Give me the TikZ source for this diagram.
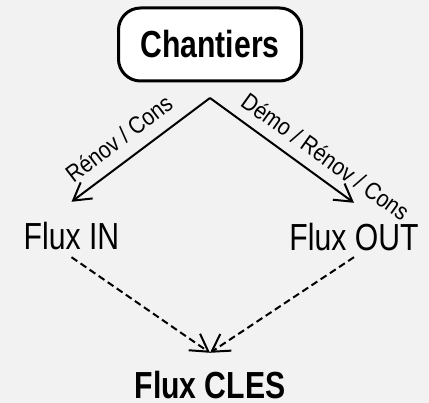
\documentclass[tikz,border=0pt]{standalone}
\usepackage{fontspec}
\setmainfont{Liberation Sans}[FakeStretch=0.8]
\newfontfamily\lblfont{Liberation Sans}[FakeStretch=0.87]
\usetikzlibrary{arrows.meta}
\definecolor{bg}{HTML}{F2F2F2}
\begin{document}
\begin{tikzpicture}[x=1pt,y=-1pt,
  bigtext/.style={font=\fontsize{37.7}{40}\selectfont, inner sep=0pt, anchor=base},
  boldtext/.style={font=\fontsize{37.7}{40}\selectfont\bfseries, inner sep=0pt, anchor=base},
  lbl/.style={font=\lblfont\fontsize{24}{26}\selectfont, inner sep=0pt, anchor=base},
  topbox/.style={draw=black, fill=white, line width=3pt, rounded corners=22pt,
    minimum width=183pt, minimum height=73pt, inner sep=0pt, outer ysep=17pt,
    font=\fontsize{37.7}{40}\selectfont\bfseries},
  flow/.style={draw=black, line width=2pt, -{Straight Barb[length=17pt,width=20pt]}},
  flowdash/.style={flow, dash pattern=on 7pt off 4pt}
]
\useasboundingbox[fill=bg] (0,0) rectangle (429,403);
\node[topbox] (ch) at (210,44.5) {Chantiers};
\node[bigtext, text height=48pt, text depth=7pt] (in) at (71.5,250) {Flux IN};
\node[bigtext, text height=48pt, text depth=6pt] (out) at (354,251) {Flux OUT};
\node[boldtext, text height=46pt, text depth=0pt] (cles) at (210,399) {Flux CLES};
\draw[flow] (ch.south) -- (in.north);
\draw[flow] (ch.south) -- (out.north);
\node[lbl, rotate=37.2] (l1) at (124,145) {Rénov / Cons};
\node[lbl, rotate=-35.7] (l2) at (320.5,163.5) {Démo / Rénov / Cons};
\draw[flowdash] (in.south) -- (cles.north);
\draw[flowdash] (out.south) -- (cles.north);
\end{tikzpicture}
\end{document}
